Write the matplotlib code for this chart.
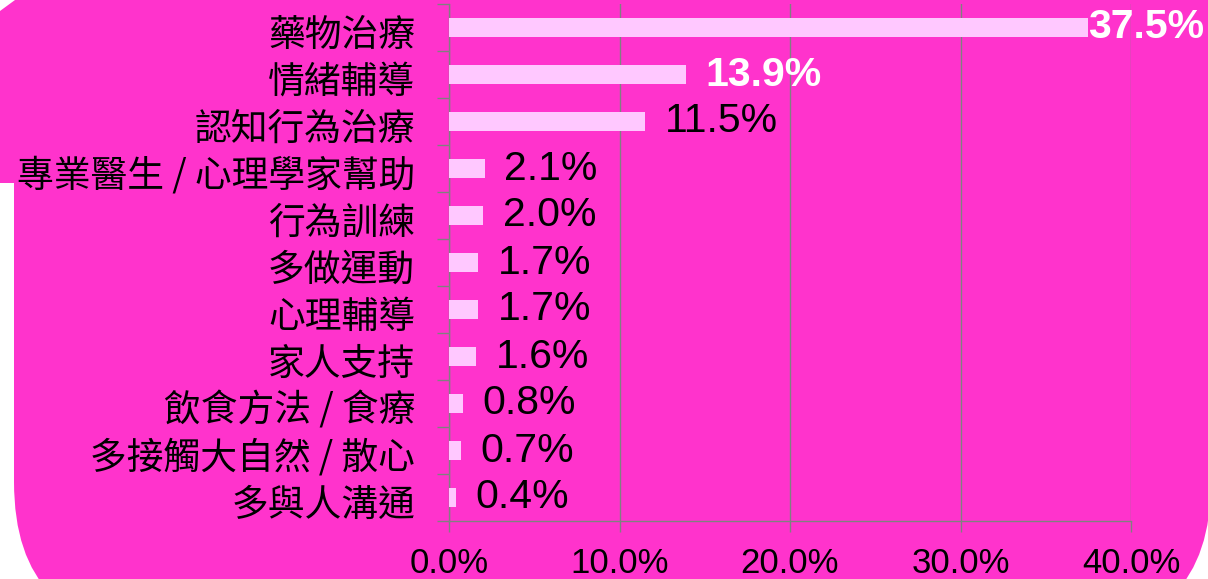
import matplotlib
matplotlib.use("Agg")
import matplotlib.pyplot as plt
from matplotlib.patches import FancyBboxPatch, Rectangle, Polygon
from matplotlib.transforms import IdentityTransform
from matplotlib.ticker import FuncFormatter

categories = ['藥物治療', '情緒輔導', '認知行為治療', '專業醫生 / 心理學家幫助', '行為訓練',
              '多做運動', '心理輔導', '家人支持', '飲食方法 / 食療', '多接觸大自然 / 散心', '多與人溝通']
values = [37.5, 13.9, 11.5, 2.1, 2.0, 1.7, 1.7, 1.6, 0.8, 0.7, 0.4]
value_labels = ['37.5%', '13.9%', '11.5%', '2.1%', '2.0%', '1.7%', '1.7%', '1.6%', '0.8%', '0.7%', '0.4%']
x_ticks = [0, 10, 20, 30, 40]

MAGENTA = '#FF33CC'
BAR = '#FFC8FF'
GRAY = '#808080'

W, H = 1208, 579
fig = plt.figure(figsize=(W / 100, H / 100), dpi=100)
fig.patch.set_facecolor('white')

ident = IdentityTransform()
# background shapes (pixel coords, origin bottom-left)
big = FancyBboxPatch((14, H - 632), 1211 - 14, 900, boxstyle="round,pad=0,rounding_size=150",
                     transform=ident, facecolor=MAGENTA, edgecolor='none', zorder=-3)
fig.patches.append(big)
topleft = Rectangle((0, H - 183), 40, 183, transform=ident, facecolor=MAGENTA,
                    edgecolor='none', zorder=-3)
fig.patches.append(topleft)
corner = Polygon([(0, H), (15, H), (0, H - 11)], closed=True, transform=ident,
                 facecolor='white', edgecolor='none', zorder=-2)
fig.patches.append(corner)

ax = fig.add_axes([449 / W, 58 / H, (1131 - 449) / W, (575 - 58) / H])
ax.set_facecolor('none')
ax.set_zorder(1)

n = len(categories)
ypos = list(range(n))
ax.barh(ypos, values, height=0.4, color=BAR, zorder=3)

ax.set_xlim(0, 40)
ax.set_ylim(n - 0.5, -0.5)

ax.set_xticks(x_ticks)
ax.xaxis.set_major_formatter(FuncFormatter(lambda v, p: f'{v:.1f}%'))
ax.tick_params(axis='x', length=8, width=1, color=GRAY, pad=11,
               labelsize=25, labelcolor='black')
for lab in ax.get_xticklabels():
    lab.set_family(['Liberation Sans', 'DejaVu Sans'])

bounds = [i - 0.5 for i in range(n + 1)]
ax.set_yticks(bounds)
ax.set_yticklabels([''] * len(bounds))
ax.tick_params(axis='y', which='major', length=8.6, width=1, color=GRAY)

# category labels (slightly below the bar centre, as in the reference)
for i, cat in enumerate(categories):
    ax.annotate(cat, (0, i), xycoords=('axes fraction', 'data'), xytext=(-24.5, -5.5),
                textcoords='offset points', ha='right', va='center', fontsize=26.5,
                color='black', family=['Noto Sans CJK TC', 'DejaVu Sans'],
                annotation_clip=False)

ax.grid(axis='x', color=GRAY, linewidth=1, zorder=1)
ax.set_axisbelow(True)
for s in ['top', 'right']:
    ax.spines[s].set_visible(False)
for s in ['left', 'bottom']:
    ax.spines[s].set_color(GRAY)
    ax.spines[s].set_linewidth(1)

for i, (v, lab) in enumerate(zip(values, value_labels)):
    if i < 2:
        color, weight = 'white', 'bold'
    else:
        color, weight = 'black', 'normal'
    off = 0 if i == 0 else 14
    ax.annotate(lab, (v, i), xytext=(off, 0), textcoords='offset points',
                ha='left', va='center', fontsize=29.5, color=color, fontweight=weight,
                family=['Liberation Sans', 'DejaVu Sans'], zorder=5, annotation_clip=False)

fig.savefig('out.png', dpi=100, facecolor=fig.get_facecolor())
